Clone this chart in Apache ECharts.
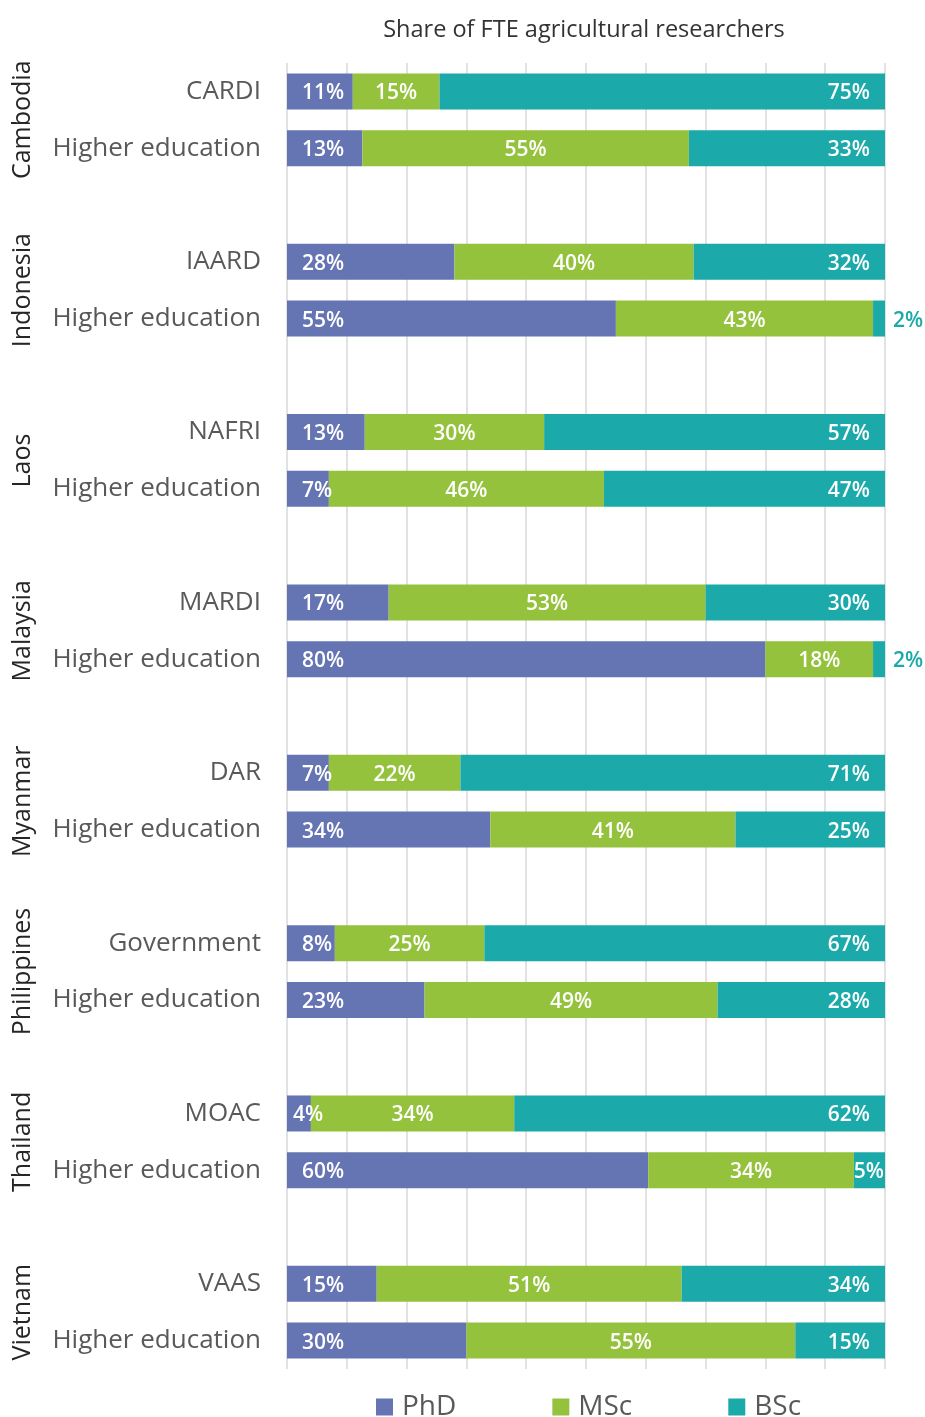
<!DOCTYPE html>
<html>
<head>
<meta charset="utf-8">
<script src="https://cdn.jsdelivr.net/npm/echarts@6/dist/echarts.min.js"></script>
<style>
  html, body { margin: 0; padding: 0; background: #fff; }
  #chart { width: 925px; height: 1417px; }
</style>
</head>
<body>
<div id="chart"></div>
<script>
// countries, two institutions each
const countries = ['Cambodia', 'Indonesia', 'Laos', 'Malaysia', 'Myanmar', 'Philippines', 'Thailand', 'Vietnam'];
const institutions = [
    'CARDI', 'Higher education',
    'IAARD', 'Higher education',
    'NAFRI', 'Higher education',
    'MARDI', 'Higher education',
    'DAR', 'Higher education',
    'Government', 'Higher education',
    'MOAC', 'Higher education',
    'VAAS', 'Higher education'
];
// shares (%)
const phd = [11, 12.6, 28, 55, 13, 7, 17, 80, 7, 34, 8, 23, 4, 60.4, 15, 30];
const msc = [14.5, 54.6, 40, 43, 30, 46, 53, 18, 22, 41, 25, 49, 34, 34.4, 51, 55];
const bsc = [74.5, 32.8, 32, 2, 57, 47, 30, 2, 71, 25, 67, 28, 62, 5.2, 34, 15];
const xTicks = [0, 10, 20, 30, 40, 50, 60, 70, 80, 90, 100];

const colors = { phd: '#6574b2', msc: '#95c23d', bsc: '#1baaa9' };
const font = 'Open Sans';

// 23 rows: 2 bars per country + an empty row between countries
let categories = [];
let rowIndex = []; // which data index goes on each row (-1 = blank)
countries.forEach((c, i) => {
    categories.push(institutions[2 * i], institutions[2 * i + 1]);
    rowIndex.push(2 * i, 2 * i + 1);
    if (i < countries.length - 1) {
        categories.push('');
        rowIndex.push(-1);
    }
});
// country label sits between its two bars
let countryPos = countries.map((c, i) => 3 * i + 0.5);

function labelFor(kind, v) {
    let lab = { show: true, color: '#fff', fontFamily: font, fontSize: 21, fontWeight: 600, offset: [0, 2] };
    if (kind === 'phd') {
        lab.position = 'insideLeft';
        lab.distance = v < 5 ? 6 : 15;
    } else if (kind === 'msc') {
        lab.position = 'inside';
    } else {
        if (v < 4) {
            lab.position = 'right';
            lab.distance = 8;
            lab.color = colors.bsc;
        } else if (v < 10) {
            lab.position = 'insideRight';
            lab.distance = 1;
        } else {
            lab.position = 'insideRight';
            lab.distance = 15;
        }
    }
    return lab;
}

function buildData(arr, kind) {
    return rowIndex.map(idx => {
        if (idx < 0) return '-';
        return { value: arr[idx], label: labelFor(kind, arr[idx]) };
    });
}

let myChart = echarts.init(document.getElementById('chart'));

myChart.setOption({
    animation: false,
    textStyle: { fontFamily: font },
    title: {
        text: 'Share of FTE agricultural researchers',
        left: 579,
        textAlign: 'center',
        top: 13,
        textStyle: { fontFamily: font, fontSize: 23.5, fontWeight: 'normal', color: '#333' }
    },
    legend: {
        left: 376,
        top: 1393,
        padding: 0,
        itemWidth: 17,
        itemHeight: 17,
        itemGap: 96,
        icon: 'rect',
        textStyle: { fontFamily: font, fontSize: 28, color: '#595959', padding: [0, 0, 0, 4] },
        data: ['PhD', 'MSc', 'BSc']
    },
    grid: { left: 287, right: 40, top: 63, bottom: 48, containLabel: false },
    xAxis: {
        type: 'value',
        min: xTicks[0],
        max: xTicks[xTicks.length - 1],
        interval: 10,
        axisLabel: { show: false },
        axisLine: { show: false },
        axisTick: { show: false },
        splitLine: { show: true, lineStyle: { color: '#d9d9d9', width: 1.5 } }
    },
    yAxis: [
        {
            type: 'category',
            inverse: true,
            data: categories,
            axisLine: { show: false },
            axisTick: { show: false },
            axisLabel: { fontFamily: font, fontSize: 26, color: '#595959', margin: 26 }
        },
        {
            type: 'value',
            position: 'left',
            inverse: true,
            min: -0.5,
            max: categories.length - 0.5,
            offset: 252,
            axisLine: { show: false },
            axisTick: { show: false },
            splitLine: { show: false },
            axisLabel: {
                customValues: countryPos,
                rotate: 90,
                margin: 0,
                fontFamily: font,
                fontSize: 25,
                color: '#262626',
                formatter: v => countries[Math.round((v - 0.5) / 3)]
            }
        }
    ],
    series: [
        {
            name: 'PhD', type: 'bar', stack: 'total', barWidth: 36,
            itemStyle: { color: colors.phd },
            label: { formatter: p => Math.round(p.value) + '%' },
            data: buildData(phd, 'phd')
        },
        {
            name: 'MSc', type: 'bar', stack: 'total', barWidth: 36,
            itemStyle: { color: colors.msc },
            label: { formatter: p => Math.round(p.value) + '%' },
            data: buildData(msc, 'msc')
        },
        {
            name: 'BSc', type: 'bar', stack: 'total', barWidth: 36,
            itemStyle: { color: colors.bsc },
            label: { formatter: p => Math.round(p.value) + '%' },
            data: buildData(bsc, 'bsc')
        }
    ]
});
</script>
</body>
</html>
